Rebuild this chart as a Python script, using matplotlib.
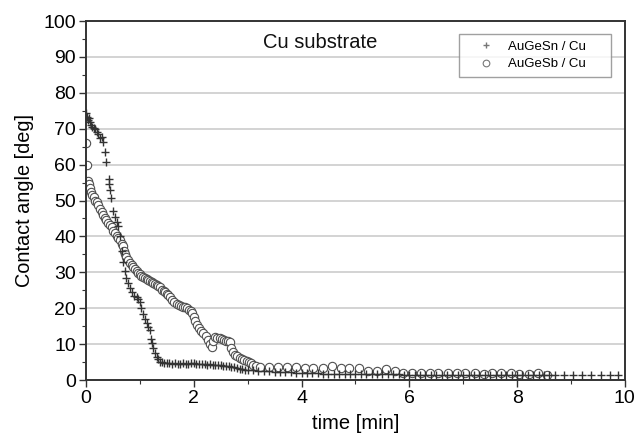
import matplotlib

matplotlib.use("Agg")

import matplotlib.pyplot as plt
from matplotlib.ticker import MultipleLocator

# AuGeSn / Cu  (time [min], contact angle [deg])
sn_time = [
    0.00, 0.01, 0.03, 0.05, 0.07, 0.10, 0.12, 0.15, 0.17, 0.20, 0.23, 0.26, 0.29, 0.32,
    0.35, 0.38, 0.42, 0.43, 0.45, 0.46, 0.50, 0.53, 0.57, 0.60, 0.63, 0.66, 0.69, 0.72,
    0.75, 0.78, 0.82, 0.86, 0.90, 0.94, 0.97, 1.00, 1.03, 1.06, 1.09, 1.13, 1.16, 1.19,
    1.21, 1.22, 1.25, 1.28, 1.31, 1.34, 1.37, 1.41, 1.45, 1.50, 1.55, 1.60, 1.65, 1.70,
    1.75, 1.80, 1.85, 1.90, 1.95, 2.00, 2.05, 2.10, 2.15, 2.20, 2.25, 2.30, 2.35, 2.40,
    2.45, 2.50, 2.55, 2.60, 2.65, 2.70, 2.75, 2.80, 2.85, 2.90, 2.95, 3.00, 3.10, 3.20,
    3.30, 3.40, 3.50, 3.60, 3.70, 3.80, 3.90, 4.00, 4.10, 4.20, 4.30, 4.40, 4.50, 4.60,
    4.70, 4.80, 4.90, 5.00, 5.10, 5.20, 5.30, 5.40, 5.50, 5.60, 5.70, 5.80, 5.90, 6.00,
    6.10, 6.20, 6.30, 6.40, 6.50, 6.60, 6.70, 6.80, 6.90, 7.00, 7.10, 7.20, 7.30, 7.40,
    7.50, 7.60, 7.70, 7.80, 7.90, 8.00, 8.10, 8.20, 8.30, 8.40, 8.50, 8.60, 8.70, 8.87,
    9.04, 9.21, 9.38, 9.55, 9.72, 9.88,
]
sn_angle = [
    74.5, 73.3, 72.5, 73.0, 71.8, 71.0, 70.5, 70.2, 69.8, 69.0, 68.5, 67.5, 67.8, 66.4,
    63.6, 60.8, 56.0, 54.5, 53.0, 50.6, 47.0, 45.5, 44.1, 43.0, 40.0, 36.0, 33.0, 30.5,
    28.3, 27.0, 25.5, 24.5, 23.5, 23.2, 22.5, 21.8, 20.0, 18.5, 17.0, 15.8, 14.8, 13.9,
    11.5, 10.2, 8.8, 7.4, 6.5, 5.8, 5.1, 4.9, 4.7, 4.6, 4.6, 4.5, 4.6, 4.5,
    4.5, 4.6, 4.5, 4.5, 4.6, 4.6, 4.5, 4.4, 4.5, 4.4, 4.3, 4.4, 4.3, 4.2,
    4.2, 4.1, 4.0, 3.9, 3.8, 3.6, 3.5, 3.3, 3.2, 3.0, 2.9, 2.8, 2.7, 2.6,
    2.5, 2.4, 2.3, 2.2, 2.2, 2.1, 2.0, 2.0, 1.9, 1.9, 1.9, 1.8, 1.8, 1.8,
    1.8, 1.7, 1.7, 1.7, 1.7, 1.7, 1.6, 1.6, 1.6, 1.6, 1.6, 1.6, 1.5, 1.5,
    1.5, 1.5, 1.5, 1.5, 1.5, 1.5, 1.5, 1.5, 1.5, 1.5, 1.5, 1.5, 1.5, 1.5,
    1.5, 1.5, 1.5, 1.5, 1.5, 1.5, 1.5, 1.5, 1.5, 1.5, 1.5, 1.5, 1.4, 1.4,
    1.4, 1.4, 1.4, 1.4, 1.4, 1.4,
]

# AuGeSb / Cu
sb_time = [
    0.00, 0.01, 0.03, 0.05, 0.07, 0.10, 0.12, 0.14, 0.17, 0.20, 0.23, 0.26, 0.29, 0.32,
    0.35, 0.38, 0.41, 0.44, 0.48, 0.51, 0.54, 0.57, 0.60, 0.63, 0.66, 0.69, 0.71, 0.72,
    0.75, 0.78, 0.82, 0.85, 0.88, 0.91, 0.94, 0.97, 1.00, 1.03, 1.06, 1.10, 1.13, 1.16,
    1.19, 1.22, 1.25, 1.28, 1.31, 1.34, 1.37, 1.41, 1.44, 1.47, 1.50, 1.53, 1.56, 1.60,
    1.64, 1.68, 1.72, 1.76, 1.80, 1.84, 1.87, 1.91, 1.94, 1.97, 2.00, 2.03, 2.06, 2.10,
    2.14, 2.18, 2.22, 2.26, 2.30, 2.33, 2.36, 2.40, 2.44, 2.48, 2.52, 2.56, 2.60, 2.64,
    2.67, 2.70, 2.73, 2.76, 2.80, 2.85, 2.89, 2.94, 2.98, 3.02, 3.06, 3.10, 3.16, 3.23,
    3.40, 3.57, 3.73, 3.90, 4.06, 4.22, 4.39, 4.56, 4.73, 4.89, 5.06, 5.23, 5.40, 5.56,
    5.73, 5.89, 6.05, 6.21, 6.38, 6.54, 6.71, 6.88, 7.04, 7.21, 7.38, 7.54, 7.71, 7.88,
    8.04, 8.22, 8.39, 8.55,
]
sb_angle = [
    66.0, 59.8, 55.5, 54.5, 53.5, 52.5, 51.5, 51.0, 50.0, 49.5, 48.7, 47.5, 46.8, 46.0,
    45.0, 44.6, 43.8, 43.2, 42.5, 41.5, 40.9, 40.0, 39.5, 39.0, 38.0, 37.2, 35.8, 35.0,
    34.2, 33.4, 32.6, 32.0, 31.4, 30.8, 30.4, 29.8, 29.4, 29.0, 28.6, 28.4, 28.0, 27.8,
    27.6, 27.3, 27.0, 26.8, 26.5, 26.2, 25.8, 25.2, 24.8, 24.4, 24.0, 23.6, 23.0, 22.4,
    21.8, 21.3, 21.0, 20.6, 20.4, 20.2, 20.0, 19.6, 19.2, 18.6, 17.6, 16.4, 15.2, 14.4,
    13.6, 13.0, 12.2, 11.2, 10.0, 9.3, 10.8, 12.0, 11.8, 11.6, 11.4, 11.2, 11.0, 10.8,
    10.5, 8.8, 7.8, 7.0, 6.6, 6.2, 5.9, 5.6, 5.2, 4.9, 4.6, 4.2, 3.9, 3.7,
    3.6, 3.6, 3.6, 3.5, 3.4, 3.4, 3.4, 4.0, 3.4, 3.4, 3.3, 2.4, 2.4, 3.0,
    2.4, 1.9, 1.9, 1.9, 1.9, 1.9, 1.9, 1.9, 1.9, 1.9, 1.8, 1.9, 1.9, 1.9,
    1.8, 1.6, 2.0, 1.4,
]

plt.rcParams["font.family"] = ["Liberation Sans", "DejaVu Sans"]

fig = plt.figure(figsize=(6.34, 4.33), dpi=100)
ax = fig.add_axes([0.1356, 0.1224, 0.850, 0.829])

ax.plot(sn_time, sn_angle, linestyle="none", marker="+", markersize=6,
        markeredgewidth=1.0, color="#333333", label="AuGeSn / Cu", zorder=3)
ax.plot(sb_time, sb_angle, linestyle="none", marker="o", markersize=6,
        markerfacecolor="white", markeredgecolor="#505050", markeredgewidth=0.8,
        label="AuGeSb / Cu", zorder=2)

ax.set_xlim(0, 10)
ax.set_ylim(0, 100)
ax.xaxis.set_major_locator(MultipleLocator(2))
ax.xaxis.set_minor_locator(MultipleLocator(1))
ax.yaxis.set_major_locator(MultipleLocator(10))
ax.yaxis.set_minor_locator(MultipleLocator(5))
ax.tick_params(which="major", direction="out", length=5, width=1.0, color="#333333",
               labelsize=14, pad=2)
ax.tick_params(which="minor", direction="out", length=3, width=0.8, color="#333333")

ax.grid(axis="y", which="major", color="#cccccc", linewidth=1.2)
ax.set_axisbelow(True)
for side in ["left", "bottom", "right", "top"]:
    ax.spines[side].set_color("#333333")
    ax.spines[side].set_linewidth(1.4)

ax.set_xlabel("time [min]", fontsize=14.5, labelpad=5)
ax.set_ylabel("Contact angle [deg]", fontsize=14.3, labelpad=7)
ax.text(0.434, 0.94, "Cu substrate", transform=ax.transAxes, fontsize=14.5,
        ha="center", va="center", color="#111111")

leg = ax.legend(loc="upper left", bbox_to_anchor=(0.692, 0.844, 0.282, 0.12),
                mode="expand", fontsize=9.5, frameon=True, fancybox=False,
                edgecolor="#888888", markerscale=0.8, handlelength=3.1,
                handletextpad=0.1, borderpad=0.5, labelspacing=0.4, borderaxespad=0.0)
leg.get_frame().set_linewidth(1.0)
for h in leg.legend_handles:
    h.set_markeredgecolor("#777777")

fig.savefig("out.png", dpi=100)
